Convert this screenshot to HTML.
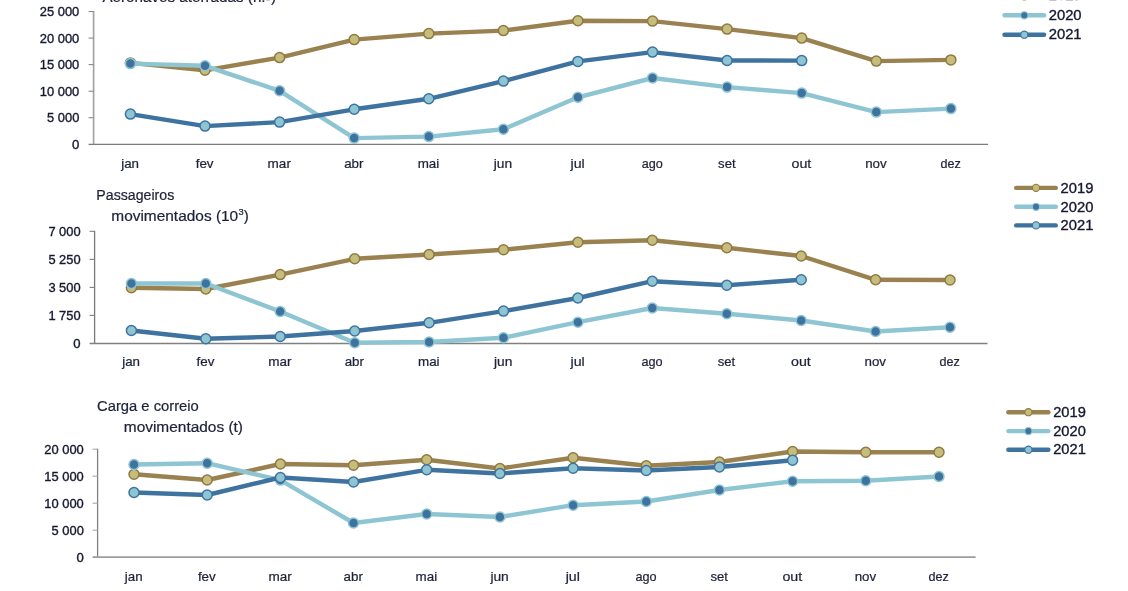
<!DOCTYPE html>
<html lang="pt"><head><meta charset="utf-8"><title>Transporte aéreo</title>
<style>
html,body{margin:0;padding:0;background:#fff;}
body{width:1128px;height:591px;overflow:hidden;}
svg{display:block;}
text{font-family:"Liberation Sans",sans-serif;fill:#1d2239;stroke:#1d2239;stroke-width:0.22px;}
.ax{font-size:12.7px;}
.num{fill:#151930;stroke:#151930;stroke-width:0.36px;}
.ti{font-size:14.7px;}
.ln{fill:none;stroke-width:4.4;stroke-linejoin:round;stroke-linecap:round;}
</style></head><body>
<svg width="1128" height="591" viewBox="0 0 1128 591">
<defs><filter id="soft" x="0" y="0" width="100%" height="100%" filterUnits="userSpaceOnUse" color-interpolation-filters="sRGB"><feGaussianBlur stdDeviation="0.45"/></filter></defs>
<g filter="url(#soft)">
<rect x="-5" y="-5" width="1138" height="601" fill="#ffffff"/>
<g>
<line x1="93.6" y1="11.0" x2="93.6" y2="144.3" stroke="#a4a4a4" stroke-width="1.7"/>
<line x1="88.6" y1="144.3" x2="988.1" y2="144.3" stroke="#7c7c7c" stroke-width="1.3"/>
<line x1="88.6" y1="117.7" x2="93.6" y2="117.7" stroke="#8a8a8a" stroke-width="1.1"/>
<line x1="88.6" y1="91.2" x2="93.6" y2="91.2" stroke="#8a8a8a" stroke-width="1.1"/>
<line x1="88.6" y1="64.6" x2="93.6" y2="64.6" stroke="#8a8a8a" stroke-width="1.1"/>
<line x1="88.6" y1="38.1" x2="93.6" y2="38.1" stroke="#8a8a8a" stroke-width="1.1"/>
<line x1="88.6" y1="11.5" x2="93.6" y2="11.5" stroke="#8a8a8a" stroke-width="1.1"/>
<text class="ax num" x="72.0" y="148.9" textLength="7.3" lengthAdjust="spacingAndGlyphs">0</text>
<text class="ax num" x="47.1" y="122.3" textLength="32.2" lengthAdjust="spacingAndGlyphs">5 000</text>
<text class="ax num" x="39.8" y="95.7" textLength="39.5" lengthAdjust="spacingAndGlyphs">10 000</text>
<text class="ax num" x="39.8" y="69.2" textLength="39.5" lengthAdjust="spacingAndGlyphs">15 000</text>
<text class="ax num" x="39.8" y="42.6" textLength="39.5" lengthAdjust="spacingAndGlyphs">20 000</text>
<text class="ax num" x="39.8" y="16.1" textLength="39.5" lengthAdjust="spacingAndGlyphs">25 000</text>
<text class="ax" x="121.2" y="167.5" textLength="17.8" lengthAdjust="spacingAndGlyphs">jan</text>
<text class="ax" x="195.7" y="167.5" textLength="17.9" lengthAdjust="spacingAndGlyphs">fev</text>
<text class="ax" x="267.6" y="167.5" textLength="23.3" lengthAdjust="spacingAndGlyphs">mar</text>
<text class="ax" x="344.2" y="167.5" textLength="19.3" lengthAdjust="spacingAndGlyphs">abr</text>
<text class="ax" x="417.7" y="167.5" textLength="21.6" lengthAdjust="spacingAndGlyphs">mai</text>
<text class="ax" x="493.8" y="167.5" textLength="18.4" lengthAdjust="spacingAndGlyphs">jun</text>
<text class="ax" x="570.5" y="167.5" textLength="14.2" lengthAdjust="spacingAndGlyphs">jul</text>
<text class="ax" x="641.7" y="167.5" textLength="21.1" lengthAdjust="spacingAndGlyphs">ago</text>
<text class="ax" x="718.1" y="167.5" textLength="17.5" lengthAdjust="spacingAndGlyphs">set</text>
<text class="ax" x="791.5" y="167.5" textLength="19.8" lengthAdjust="spacingAndGlyphs">out</text>
<text class="ax" x="865.2" y="167.5" textLength="21.5" lengthAdjust="spacingAndGlyphs">nov</text>
<text class="ax" x="940.5" y="167.5" textLength="20.3" lengthAdjust="spacingAndGlyphs">dez</text>
<polyline class="ln" stroke="#9a8150" points="130.4,62.9 205.0,70.3 279.6,57.6 354.2,39.6 428.8,33.6 503.4,30.6 577.9,20.8 652.5,21.1 727.1,29.1 801.7,38.1 876.3,61.1 950.9,59.9"/>
<circle cx="130.4" cy="62.9" r="5.0" fill="#c5bd7b" stroke="#917941" stroke-width="1.5"/>
<circle cx="205.0" cy="70.3" r="5.0" fill="#c5bd7b" stroke="#917941" stroke-width="1.5"/>
<circle cx="279.6" cy="57.6" r="5.0" fill="#c5bd7b" stroke="#917941" stroke-width="1.5"/>
<circle cx="354.2" cy="39.6" r="5.0" fill="#c5bd7b" stroke="#917941" stroke-width="1.5"/>
<circle cx="428.8" cy="33.6" r="5.0" fill="#c5bd7b" stroke="#917941" stroke-width="1.5"/>
<circle cx="503.4" cy="30.6" r="5.0" fill="#c5bd7b" stroke="#917941" stroke-width="1.5"/>
<circle cx="577.9" cy="20.8" r="5.0" fill="#c5bd7b" stroke="#917941" stroke-width="1.5"/>
<circle cx="652.5" cy="21.1" r="5.0" fill="#c5bd7b" stroke="#917941" stroke-width="1.5"/>
<circle cx="727.1" cy="29.1" r="5.0" fill="#c5bd7b" stroke="#917941" stroke-width="1.5"/>
<circle cx="801.7" cy="38.1" r="5.0" fill="#c5bd7b" stroke="#917941" stroke-width="1.5"/>
<circle cx="876.3" cy="61.1" r="5.0" fill="#c5bd7b" stroke="#917941" stroke-width="1.5"/>
<circle cx="950.9" cy="59.9" r="5.0" fill="#c5bd7b" stroke="#917941" stroke-width="1.5"/>
<polyline class="ln" stroke="#8ec5d2" points="130.4,63.6 205.0,65.8 279.6,90.8 354.2,138.1 428.8,136.6 503.4,129.3 577.9,97.3 652.5,78.0 727.1,87.1 801.7,93.1 876.3,112.1 950.9,108.6"/>
<circle cx="130.4" cy="63.6" r="5.0" fill="#3e739f" stroke="#8ec5d2" stroke-width="1.5"/>
<circle cx="205.0" cy="65.8" r="5.0" fill="#3e739f" stroke="#8ec5d2" stroke-width="1.5"/>
<circle cx="279.6" cy="90.8" r="5.0" fill="#3e739f" stroke="#8ec5d2" stroke-width="1.5"/>
<circle cx="354.2" cy="138.1" r="5.0" fill="#3e739f" stroke="#8ec5d2" stroke-width="1.5"/>
<circle cx="428.8" cy="136.6" r="5.0" fill="#3e739f" stroke="#8ec5d2" stroke-width="1.5"/>
<circle cx="503.4" cy="129.3" r="5.0" fill="#3e739f" stroke="#8ec5d2" stroke-width="1.5"/>
<circle cx="577.9" cy="97.3" r="5.0" fill="#3e739f" stroke="#8ec5d2" stroke-width="1.5"/>
<circle cx="652.5" cy="78.0" r="5.0" fill="#3e739f" stroke="#8ec5d2" stroke-width="1.5"/>
<circle cx="727.1" cy="87.1" r="5.0" fill="#3e739f" stroke="#8ec5d2" stroke-width="1.5"/>
<circle cx="801.7" cy="93.1" r="5.0" fill="#3e739f" stroke="#8ec5d2" stroke-width="1.5"/>
<circle cx="876.3" cy="112.1" r="5.0" fill="#3e739f" stroke="#8ec5d2" stroke-width="1.5"/>
<circle cx="950.9" cy="108.6" r="5.0" fill="#3e739f" stroke="#8ec5d2" stroke-width="1.5"/>
<polyline class="ln" stroke="#3e739f" points="130.4,114.1 205.0,126.1 279.6,122.1 354.2,109.3 428.8,98.8 503.4,81.1 577.9,61.4 652.5,52.1 727.1,60.5 801.7,60.6"/>
<circle cx="130.4" cy="114.1" r="5.0" fill="#8ec5d2" stroke="#3e739f" stroke-width="1.5"/>
<circle cx="205.0" cy="126.1" r="5.0" fill="#8ec5d2" stroke="#3e739f" stroke-width="1.5"/>
<circle cx="279.6" cy="122.1" r="5.0" fill="#8ec5d2" stroke="#3e739f" stroke-width="1.5"/>
<circle cx="354.2" cy="109.3" r="5.0" fill="#8ec5d2" stroke="#3e739f" stroke-width="1.5"/>
<circle cx="428.8" cy="98.8" r="5.0" fill="#8ec5d2" stroke="#3e739f" stroke-width="1.5"/>
<circle cx="503.4" cy="81.1" r="5.0" fill="#8ec5d2" stroke="#3e739f" stroke-width="1.5"/>
<circle cx="577.9" cy="61.4" r="5.0" fill="#8ec5d2" stroke="#3e739f" stroke-width="1.5"/>
<circle cx="652.5" cy="52.1" r="5.0" fill="#8ec5d2" stroke="#3e739f" stroke-width="1.5"/>
<circle cx="727.1" cy="60.5" r="5.0" fill="#8ec5d2" stroke="#3e739f" stroke-width="1.5"/>
<circle cx="801.7" cy="60.6" r="5.0" fill="#8ec5d2" stroke="#3e739f" stroke-width="1.5"/>
<line class="ln" x1="1004.5" y1="-3.7" x2="1044.1" y2="-3.7" stroke="#9a8150"/>
<circle cx="1024.3" cy="-3.7" r="3.6" fill="#c5bd7b" stroke="#917941" stroke-width="1.1"/>
<text class="ti num" x="1048.7" y="0.4" textLength="32.9" lengthAdjust="spacingAndGlyphs">2019</text>
<line class="ln" x1="1004.5" y1="15.3" x2="1044.1" y2="15.3" stroke="#8ec5d2"/>
<circle cx="1024.3" cy="15.3" r="3.6" fill="#3e739f" stroke="#8ec5d2" stroke-width="1.1"/>
<text class="ti num" x="1048.7" y="19.9" textLength="32.9" lengthAdjust="spacingAndGlyphs">2020</text>
<line class="ln" x1="1004.5" y1="34.7" x2="1044.1" y2="34.7" stroke="#3e739f"/>
<circle cx="1024.3" cy="34.7" r="3.6" fill="#8ec5d2" stroke="#3e739f" stroke-width="1.1"/>
<text class="ti num" x="1048.7" y="39.3" textLength="32.9" lengthAdjust="spacingAndGlyphs">2021</text>
</g>
<g>
<line x1="94.6" y1="230.8" x2="94.6" y2="343.5" stroke="#787878" stroke-width="1.3"/>
<line x1="89.6" y1="343.5" x2="987.5" y2="343.5" stroke="#808080" stroke-width="1.3"/>
<line x1="89.6" y1="315.4" x2="94.6" y2="315.4" stroke="#808080" stroke-width="1.1"/>
<line x1="89.6" y1="287.4" x2="94.6" y2="287.4" stroke="#808080" stroke-width="1.1"/>
<line x1="89.6" y1="259.4" x2="94.6" y2="259.4" stroke="#808080" stroke-width="1.1"/>
<line x1="89.6" y1="231.3" x2="94.6" y2="231.3" stroke="#808080" stroke-width="1.1"/>
<text class="ax num" x="73.3" y="348.1" textLength="7.3" lengthAdjust="spacingAndGlyphs">0</text>
<text class="ax num" x="48.4" y="320.0" textLength="32.2" lengthAdjust="spacingAndGlyphs">1 750</text>
<text class="ax num" x="48.4" y="291.9" textLength="32.2" lengthAdjust="spacingAndGlyphs">3 500</text>
<text class="ax num" x="48.4" y="263.9" textLength="32.2" lengthAdjust="spacingAndGlyphs">5 250</text>
<text class="ax num" x="48.4" y="235.9" textLength="32.2" lengthAdjust="spacingAndGlyphs">7 000</text>
<text class="ax" x="122.2" y="366.1" textLength="17.8" lengthAdjust="spacingAndGlyphs">jan</text>
<text class="ax" x="196.5" y="366.1" textLength="17.9" lengthAdjust="spacingAndGlyphs">fev</text>
<text class="ax" x="268.3" y="366.1" textLength="23.3" lengthAdjust="spacingAndGlyphs">mar</text>
<text class="ax" x="344.7" y="366.1" textLength="19.3" lengthAdjust="spacingAndGlyphs">abr</text>
<text class="ax" x="418.0" y="366.1" textLength="21.6" lengthAdjust="spacingAndGlyphs">mai</text>
<text class="ax" x="494.0" y="366.1" textLength="18.4" lengthAdjust="spacingAndGlyphs">jun</text>
<text class="ax" x="570.5" y="366.1" textLength="14.2" lengthAdjust="spacingAndGlyphs">jul</text>
<text class="ax" x="641.5" y="366.1" textLength="21.1" lengthAdjust="spacingAndGlyphs">ago</text>
<text class="ax" x="717.7" y="366.1" textLength="17.5" lengthAdjust="spacingAndGlyphs">set</text>
<text class="ax" x="791.0" y="366.1" textLength="19.8" lengthAdjust="spacingAndGlyphs">out</text>
<text class="ax" x="864.5" y="366.1" textLength="21.5" lengthAdjust="spacingAndGlyphs">nov</text>
<text class="ax" x="939.6" y="366.1" textLength="20.3" lengthAdjust="spacingAndGlyphs">dez</text>
<polyline class="ln" stroke="#9a8150" points="131.4,287.8 205.8,289.0 280.2,274.6 354.7,258.8 429.1,254.5 503.5,249.7 577.9,242.2 652.3,240.2 726.8,247.8 801.2,256.0 875.6,279.8 950.0,280.0"/>
<circle cx="131.4" cy="287.8" r="5.0" fill="#c5bd7b" stroke="#917941" stroke-width="1.5"/>
<circle cx="205.8" cy="289.0" r="5.0" fill="#c5bd7b" stroke="#917941" stroke-width="1.5"/>
<circle cx="280.2" cy="274.6" r="5.0" fill="#c5bd7b" stroke="#917941" stroke-width="1.5"/>
<circle cx="354.7" cy="258.8" r="5.0" fill="#c5bd7b" stroke="#917941" stroke-width="1.5"/>
<circle cx="429.1" cy="254.5" r="5.0" fill="#c5bd7b" stroke="#917941" stroke-width="1.5"/>
<circle cx="503.5" cy="249.7" r="5.0" fill="#c5bd7b" stroke="#917941" stroke-width="1.5"/>
<circle cx="577.9" cy="242.2" r="5.0" fill="#c5bd7b" stroke="#917941" stroke-width="1.5"/>
<circle cx="652.3" cy="240.2" r="5.0" fill="#c5bd7b" stroke="#917941" stroke-width="1.5"/>
<circle cx="726.8" cy="247.8" r="5.0" fill="#c5bd7b" stroke="#917941" stroke-width="1.5"/>
<circle cx="801.2" cy="256.0" r="5.0" fill="#c5bd7b" stroke="#917941" stroke-width="1.5"/>
<circle cx="875.6" cy="279.8" r="5.0" fill="#c5bd7b" stroke="#917941" stroke-width="1.5"/>
<circle cx="950.0" cy="280.0" r="5.0" fill="#c5bd7b" stroke="#917941" stroke-width="1.5"/>
<polyline class="ln" stroke="#8ec5d2" points="131.4,283.5 205.8,283.5 280.2,311.5 354.7,342.8 429.1,342.0 503.5,337.8 577.9,322.2 652.3,308.0 726.8,313.8 801.2,320.5 875.6,331.5 950.0,327.2"/>
<circle cx="131.4" cy="283.5" r="5.0" fill="#3e739f" stroke="#8ec5d2" stroke-width="1.5"/>
<circle cx="205.8" cy="283.5" r="5.0" fill="#3e739f" stroke="#8ec5d2" stroke-width="1.5"/>
<circle cx="280.2" cy="311.5" r="5.0" fill="#3e739f" stroke="#8ec5d2" stroke-width="1.5"/>
<circle cx="354.7" cy="342.8" r="5.0" fill="#3e739f" stroke="#8ec5d2" stroke-width="1.5"/>
<circle cx="429.1" cy="342.0" r="5.0" fill="#3e739f" stroke="#8ec5d2" stroke-width="1.5"/>
<circle cx="503.5" cy="337.8" r="5.0" fill="#3e739f" stroke="#8ec5d2" stroke-width="1.5"/>
<circle cx="577.9" cy="322.2" r="5.0" fill="#3e739f" stroke="#8ec5d2" stroke-width="1.5"/>
<circle cx="652.3" cy="308.0" r="5.0" fill="#3e739f" stroke="#8ec5d2" stroke-width="1.5"/>
<circle cx="726.8" cy="313.8" r="5.0" fill="#3e739f" stroke="#8ec5d2" stroke-width="1.5"/>
<circle cx="801.2" cy="320.5" r="5.0" fill="#3e739f" stroke="#8ec5d2" stroke-width="1.5"/>
<circle cx="875.6" cy="331.5" r="5.0" fill="#3e739f" stroke="#8ec5d2" stroke-width="1.5"/>
<circle cx="950.0" cy="327.2" r="5.0" fill="#3e739f" stroke="#8ec5d2" stroke-width="1.5"/>
<polyline class="ln" stroke="#3e739f" points="131.4,330.5 205.8,338.8 280.2,336.5 354.7,331.0 429.1,322.8 503.5,311.1 577.9,298.0 652.3,281.2 726.8,285.2 801.2,279.8"/>
<circle cx="131.4" cy="330.5" r="5.0" fill="#8ec5d2" stroke="#3e739f" stroke-width="1.5"/>
<circle cx="205.8" cy="338.8" r="5.0" fill="#8ec5d2" stroke="#3e739f" stroke-width="1.5"/>
<circle cx="280.2" cy="336.5" r="5.0" fill="#8ec5d2" stroke="#3e739f" stroke-width="1.5"/>
<circle cx="354.7" cy="331.0" r="5.0" fill="#8ec5d2" stroke="#3e739f" stroke-width="1.5"/>
<circle cx="429.1" cy="322.8" r="5.0" fill="#8ec5d2" stroke="#3e739f" stroke-width="1.5"/>
<circle cx="503.5" cy="311.1" r="5.0" fill="#8ec5d2" stroke="#3e739f" stroke-width="1.5"/>
<circle cx="577.9" cy="298.0" r="5.0" fill="#8ec5d2" stroke="#3e739f" stroke-width="1.5"/>
<circle cx="652.3" cy="281.2" r="5.0" fill="#8ec5d2" stroke="#3e739f" stroke-width="1.5"/>
<circle cx="726.8" cy="285.2" r="5.0" fill="#8ec5d2" stroke="#3e739f" stroke-width="1.5"/>
<circle cx="801.2" cy="279.8" r="5.0" fill="#8ec5d2" stroke="#3e739f" stroke-width="1.5"/>
<line class="ln" x1="1016.2" y1="187.9" x2="1055.8" y2="187.9" stroke="#9a8150"/>
<circle cx="1036.0" cy="187.9" r="3.6" fill="#c5bd7b" stroke="#917941" stroke-width="1.1"/>
<text class="ti num" x="1060.6" y="192.9" textLength="32.8" lengthAdjust="spacingAndGlyphs">2019</text>
<line class="ln" x1="1016.2" y1="206.8" x2="1055.8" y2="206.8" stroke="#8ec5d2"/>
<circle cx="1036.0" cy="206.8" r="3.6" fill="#3e739f" stroke="#8ec5d2" stroke-width="1.1"/>
<text class="ti num" x="1060.6" y="211.8" textLength="32.8" lengthAdjust="spacingAndGlyphs">2020</text>
<line class="ln" x1="1016.2" y1="225.4" x2="1055.8" y2="225.4" stroke="#3e739f"/>
<circle cx="1036.0" cy="225.4" r="3.6" fill="#8ec5d2" stroke="#3e739f" stroke-width="1.1"/>
<text class="ti num" x="1060.6" y="230.4" textLength="32.8" lengthAdjust="spacingAndGlyphs">2021</text>
</g>
<g>
<line x1="97.6" y1="448.7" x2="97.6" y2="557.2" stroke="#808080" stroke-width="1.3"/>
<line x1="92.6" y1="557.2" x2="975.6" y2="557.2" stroke="#9c9c9c" stroke-width="1.8"/>
<line x1="92.6" y1="530.2" x2="97.6" y2="530.2" stroke="#a8a8a8" stroke-width="1.1"/>
<line x1="92.6" y1="503.2" x2="97.6" y2="503.2" stroke="#a8a8a8" stroke-width="1.1"/>
<line x1="92.6" y1="476.2" x2="97.6" y2="476.2" stroke="#a8a8a8" stroke-width="1.1"/>
<line x1="92.6" y1="449.2" x2="97.6" y2="449.2" stroke="#a8a8a8" stroke-width="1.1"/>
<text class="ax num" x="76.5" y="561.8" textLength="7.3" lengthAdjust="spacingAndGlyphs">0</text>
<text class="ax num" x="51.6" y="534.8" textLength="32.2" lengthAdjust="spacingAndGlyphs">5 000</text>
<text class="ax num" x="44.3" y="507.8" textLength="39.5" lengthAdjust="spacingAndGlyphs">10 000</text>
<text class="ax num" x="44.3" y="480.8" textLength="39.5" lengthAdjust="spacingAndGlyphs">15 000</text>
<text class="ax num" x="44.3" y="453.8" textLength="39.5" lengthAdjust="spacingAndGlyphs">20 000</text>
<text class="ax" x="124.8" y="580.9" textLength="17.8" lengthAdjust="spacingAndGlyphs">jan</text>
<text class="ax" x="197.9" y="580.9" textLength="17.9" lengthAdjust="spacingAndGlyphs">fev</text>
<text class="ax" x="268.4" y="580.9" textLength="23.3" lengthAdjust="spacingAndGlyphs">mar</text>
<text class="ax" x="343.6" y="580.9" textLength="19.3" lengthAdjust="spacingAndGlyphs">abr</text>
<text class="ax" x="415.6" y="580.9" textLength="21.6" lengthAdjust="spacingAndGlyphs">mai</text>
<text class="ax" x="490.4" y="580.9" textLength="18.4" lengthAdjust="spacingAndGlyphs">jun</text>
<text class="ax" x="565.7" y="580.9" textLength="14.2" lengthAdjust="spacingAndGlyphs">jul</text>
<text class="ax" x="635.4" y="580.9" textLength="21.1" lengthAdjust="spacingAndGlyphs">ago</text>
<text class="ax" x="710.4" y="580.9" textLength="17.5" lengthAdjust="spacingAndGlyphs">set</text>
<text class="ax" x="782.4" y="580.9" textLength="19.8" lengthAdjust="spacingAndGlyphs">out</text>
<text class="ax" x="854.7" y="580.9" textLength="21.5" lengthAdjust="spacingAndGlyphs">nov</text>
<text class="ax" x="928.5" y="580.9" textLength="20.3" lengthAdjust="spacingAndGlyphs">dez</text>
<polyline class="ln" stroke="#9a8150" points="134.0,474.2 207.2,480.0 280.4,464.0 353.5,465.2 426.7,459.8 499.9,468.5 573.1,457.8 646.3,465.8 719.4,462.0 792.6,451.5 865.8,452.2 939.0,452.2"/>
<circle cx="134.0" cy="474.2" r="5.0" fill="#c5bd7b" stroke="#917941" stroke-width="1.5"/>
<circle cx="207.2" cy="480.0" r="5.0" fill="#c5bd7b" stroke="#917941" stroke-width="1.5"/>
<circle cx="280.4" cy="464.0" r="5.0" fill="#c5bd7b" stroke="#917941" stroke-width="1.5"/>
<circle cx="353.5" cy="465.2" r="5.0" fill="#c5bd7b" stroke="#917941" stroke-width="1.5"/>
<circle cx="426.7" cy="459.8" r="5.0" fill="#c5bd7b" stroke="#917941" stroke-width="1.5"/>
<circle cx="499.9" cy="468.5" r="5.0" fill="#c5bd7b" stroke="#917941" stroke-width="1.5"/>
<circle cx="573.1" cy="457.8" r="5.0" fill="#c5bd7b" stroke="#917941" stroke-width="1.5"/>
<circle cx="646.3" cy="465.8" r="5.0" fill="#c5bd7b" stroke="#917941" stroke-width="1.5"/>
<circle cx="719.4" cy="462.0" r="5.0" fill="#c5bd7b" stroke="#917941" stroke-width="1.5"/>
<circle cx="792.6" cy="451.5" r="5.0" fill="#c5bd7b" stroke="#917941" stroke-width="1.5"/>
<circle cx="865.8" cy="452.2" r="5.0" fill="#c5bd7b" stroke="#917941" stroke-width="1.5"/>
<circle cx="939.0" cy="452.2" r="5.0" fill="#c5bd7b" stroke="#917941" stroke-width="1.5"/>
<polyline class="ln" stroke="#8ec5d2" points="134.0,464.5 207.2,463.2 280.4,480.1 353.5,523.0 426.7,514.0 499.9,517.0 573.1,505.2 646.3,501.5 719.4,490.0 792.6,481.2 865.8,480.8 939.0,476.5"/>
<circle cx="134.0" cy="464.5" r="5.0" fill="#3e739f" stroke="#8ec5d2" stroke-width="1.5"/>
<circle cx="207.2" cy="463.2" r="5.0" fill="#3e739f" stroke="#8ec5d2" stroke-width="1.5"/>
<circle cx="280.4" cy="480.1" r="5.0" fill="#3e739f" stroke="#8ec5d2" stroke-width="1.5"/>
<circle cx="353.5" cy="523.0" r="5.0" fill="#3e739f" stroke="#8ec5d2" stroke-width="1.5"/>
<circle cx="426.7" cy="514.0" r="5.0" fill="#3e739f" stroke="#8ec5d2" stroke-width="1.5"/>
<circle cx="499.9" cy="517.0" r="5.0" fill="#3e739f" stroke="#8ec5d2" stroke-width="1.5"/>
<circle cx="573.1" cy="505.2" r="5.0" fill="#3e739f" stroke="#8ec5d2" stroke-width="1.5"/>
<circle cx="646.3" cy="501.5" r="5.0" fill="#3e739f" stroke="#8ec5d2" stroke-width="1.5"/>
<circle cx="719.4" cy="490.0" r="5.0" fill="#3e739f" stroke="#8ec5d2" stroke-width="1.5"/>
<circle cx="792.6" cy="481.2" r="5.0" fill="#3e739f" stroke="#8ec5d2" stroke-width="1.5"/>
<circle cx="865.8" cy="480.8" r="5.0" fill="#3e739f" stroke="#8ec5d2" stroke-width="1.5"/>
<circle cx="939.0" cy="476.5" r="5.0" fill="#3e739f" stroke="#8ec5d2" stroke-width="1.5"/>
<polyline class="ln" stroke="#3e739f" points="134.0,492.5 207.2,495.0 280.4,477.5 353.5,482.0 426.7,469.8 499.9,473.5 573.1,468.2 646.3,470.5 719.4,467.0 792.6,460.2"/>
<circle cx="134.0" cy="492.5" r="5.0" fill="#8ec5d2" stroke="#3e739f" stroke-width="1.5"/>
<circle cx="207.2" cy="495.0" r="5.0" fill="#8ec5d2" stroke="#3e739f" stroke-width="1.5"/>
<circle cx="280.4" cy="477.5" r="5.0" fill="#8ec5d2" stroke="#3e739f" stroke-width="1.5"/>
<circle cx="353.5" cy="482.0" r="5.0" fill="#8ec5d2" stroke="#3e739f" stroke-width="1.5"/>
<circle cx="426.7" cy="469.8" r="5.0" fill="#8ec5d2" stroke="#3e739f" stroke-width="1.5"/>
<circle cx="499.9" cy="473.5" r="5.0" fill="#8ec5d2" stroke="#3e739f" stroke-width="1.5"/>
<circle cx="573.1" cy="468.2" r="5.0" fill="#8ec5d2" stroke="#3e739f" stroke-width="1.5"/>
<circle cx="646.3" cy="470.5" r="5.0" fill="#8ec5d2" stroke="#3e739f" stroke-width="1.5"/>
<circle cx="719.4" cy="467.0" r="5.0" fill="#8ec5d2" stroke="#3e739f" stroke-width="1.5"/>
<circle cx="792.6" cy="460.2" r="5.0" fill="#8ec5d2" stroke="#3e739f" stroke-width="1.5"/>
<line class="ln" x1="1008.4" y1="412.2" x2="1048.4" y2="412.2" stroke="#9a8150"/>
<circle cx="1028.4" cy="412.2" r="3.6" fill="#c5bd7b" stroke="#917941" stroke-width="1.1"/>
<text class="ti num" x="1053.2" y="416.8" textLength="32.6" lengthAdjust="spacingAndGlyphs">2019</text>
<line class="ln" x1="1008.4" y1="431.1" x2="1048.4" y2="431.1" stroke="#8ec5d2"/>
<circle cx="1028.4" cy="431.1" r="3.6" fill="#3e739f" stroke="#8ec5d2" stroke-width="1.1"/>
<text class="ti num" x="1053.2" y="435.7" textLength="32.6" lengthAdjust="spacingAndGlyphs">2020</text>
<line class="ln" x1="1008.4" y1="449.7" x2="1048.4" y2="449.7" stroke="#3e739f"/>
<circle cx="1028.4" cy="449.7" r="3.6" fill="#8ec5d2" stroke="#3e739f" stroke-width="1.1"/>
<text class="ti num" x="1053.2" y="454.3" textLength="32.6" lengthAdjust="spacingAndGlyphs">2021</text>
</g>
<line x1="266.4" y1="0.1" x2="269.8" y2="0.1" stroke="#1d2239" stroke-opacity="0.45" stroke-width="1"/>
<text class="ti" x="102.4" y="1.6" textLength="173.8" lengthAdjust="spacingAndGlyphs">Aeronaves aterradas (n.º)</text>
<text class="ti" x="96.3" y="200.0" textLength="78.0" lengthAdjust="spacingAndGlyphs">Passageiros</text>
<text class="ti" x="97.0" y="410.8" textLength="101.8" lengthAdjust="spacingAndGlyphs">Carga e correio</text>
<text class="ti" x="123.8" y="431.5" textLength="119.2" lengthAdjust="spacingAndGlyphs">movimentados (t)</text>
<text class="ti" x="111.3" y="220.5" textLength="126.9" lengthAdjust="spacingAndGlyphs">movimentados (10</text>
<text x="238.4" y="214.8" style="font-size:9.8px" textLength="5.2" lengthAdjust="spacingAndGlyphs">3</text>
<text class="ti" x="243.8" y="220.5" textLength="5.0" lengthAdjust="spacingAndGlyphs">)</text>
</g>
</svg>
</body></html>
